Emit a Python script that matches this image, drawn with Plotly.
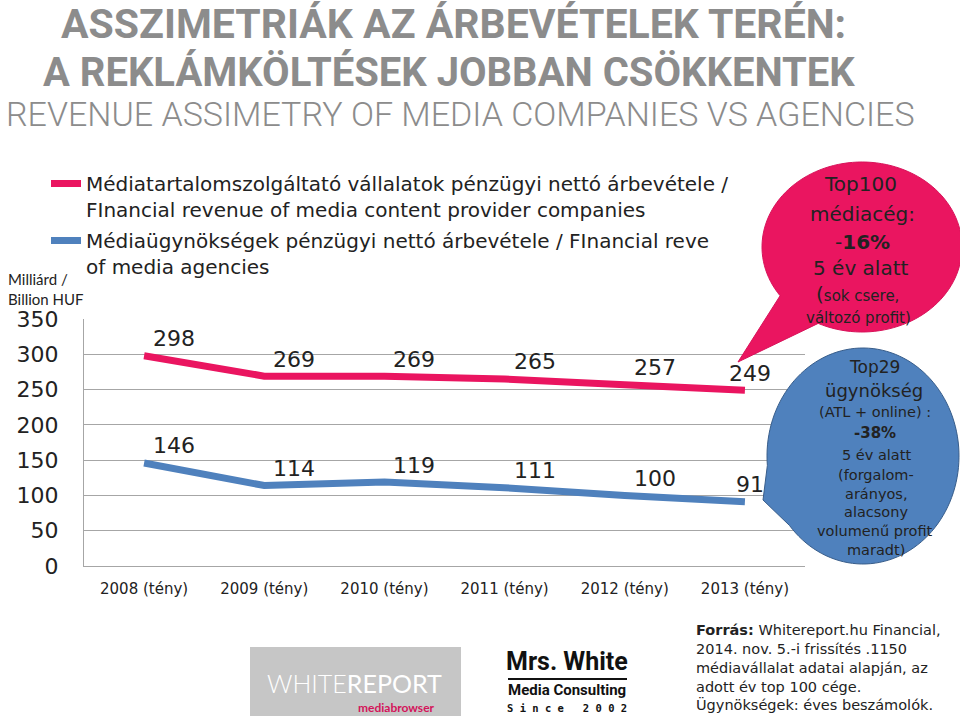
import numpy as np
import plotly.graph_objects as go

# ---- data ----
years = ["2008 (tény)", "2009 (tény)", "2010 (tény)", "2011 (tény)", "2012 (tény)", "2013 (tény)"]
media_revenue = [298, 269, 269, 265, 257, 249]
agency_revenue = [146, 114, 119, 111, 100, 91]
y_ticks = [0, 50, 100, 150, 200, 250, 300, 350]

media_name = "Médiatartalomszolgáltató vállalatok pénzügyi nettó árbevétele /<br>FInancial revenue of media content provider companies"
agency_name = "Médiaügynökségek pénzügyi nettó árbevétele / FInancial reve<br>of media agencies"

PINK = "#EA1560"
BLUE = "#4F81BD"
TXT = "#222222"
GOTHIC = "DejaVu Sans"
TITLE_FONT = "Roboto, sans-serif"

W, H = 960, 716
L, R, T, B = 84, 805, 319, 566  # plot area in pixels


def px(x):
    return (x - L) / (R - L)


def py(y):
    return (B - y) / (B - T)


def bubble(cx, cy, rx, ry, tip, a0, a1):
    """Speech bubble path in paper coords: ellipse plus a wedge tail."""
    t = np.radians(np.linspace(a0, a1 + 360, 120))
    xs = cx + rx * np.cos(t)
    ys = cy + ry * np.sin(t)
    pts = [tip] + list(zip(xs, ys))
    return "M " + " L ".join(f"{px(x):.5f},{py(y):.5f}" for x, y in pts) + " Z"


fig = go.Figure()
fig.add_trace(go.Scatter(x=years, y=media_revenue, name=media_name, mode="lines",
                         line=dict(color=PINK, width=7), legendgroup="a"))
fig.add_trace(go.Scatter(x=years, y=agency_revenue, name=agency_name, mode="lines",
                         line=dict(color=BLUE, width=7), legendgroup="b"))

ann = []

# data labels, sitting above and a bit right of each point
for series in (media_revenue, agency_revenue):
    for i, (yr, v) in enumerate(zip(years, series)):
        ann.append(dict(x=yr, y=v, xref="x", yref="y", text=str(v), showarrow=False,
                        xanchor="center", yanchor="middle",
                        xshift=30 if i < len(years) - 1 else 5, yshift=17,
                        font=dict(family=GOTHIC, size=22, color=TXT)))

shapes = [
    dict(type="path", xref="paper", yref="paper", layer="above",
         path=bubble(862, 247, 100, 85, (738, 362), 145, 116),
         fillcolor=PINK, line=dict(color="#D8135A", width=1)),
    dict(type="path", xref="paper", yref="paper", layer="above",
         path=bubble(863, 456, 96, 108, (763, 500), 175, 140),
         fillcolor=BLUE, line=dict(color="#385D8A", width=1)),
    # WHITEREPORT logo box
    dict(type="rect", xref="paper", yref="paper", layer="above",
         x0=px(250), x1=px(461), y0=py(647), y1=py(720),
         fillcolor="#C6C6C6", line=dict(width=0)),
    # Mrs. White rule
    dict(type="line", xref="paper", yref="paper", layer="above",
         x0=px(508), x1=px(627), y0=py(679), y1=py(679),
         line=dict(color="#111111", width=2)),
]


def note(text, x, y, size, color=TXT, family=GOTHIC, xanchor="center", align="center",
         yanchor="middle", weight=None):
    f = dict(family=family, size=size, color=color)
    if weight:
        f["weight"] = weight
    ann.append(dict(text=text, x=px(x), y=py(y), xref="paper", yref="paper",
                    showarrow=False, xanchor=xanchor, yanchor=yanchor, align=align, font=f))


note("<b>ASSZIMETRIÁK AZ ÁRBEVÉTELEK TERÉN:</b>", 453, 24, 41, "#8C8C8C", TITLE_FONT)
note("<b>A REKLÁMKÖLTÉSEK JOBBAN CSÖKKENTEK</b>", 449, 72, 40, "#8C8C8C", TITLE_FONT)
note("REVENUE ASSIMETRY OF MEDIA COMPANIES VS AGENCIES", 460, 114, 34, "#8C8C8C",
     TITLE_FONT, weight=300)

note("Milliárd /<br>Billion HUF", 6, 289, 15, TXT, "Lato", xanchor="left", align="left")

# pink bubble text
note("Top100", 860, 184, 20)
note("médiacég:", 862, 214, 20)
note("-<b>16%</b>", 862, 242, 20)
note("5 év alatt", 860, 268, 20)
note("<span style='font-size:20px'>(</span>sok csere,", 857, 294, 15)
note("változó profit)", 858, 318, 15)

# blue bubble text
note("Top29", 874, 367, 17)
note("ügynökség", 874, 390, 18)
note("(ATL + online) :", 875, 412, 14.5)
note("<b>-38%</b>", 875, 433, 15)
note("5 év alatt", 876, 455, 14.5)
note("(forgalom-", 876, 475, 14.5)
note("arányos,", 876, 494, 14.5)
note("alacsony", 876, 512, 14.5)
note("volumenű profit", 875, 531, 14.5)
note("maradt)", 876, 550, 14.5)

note("<b>Forrás:</b> Whitereport.hu Financial,<br>2014. nov. 5.-i frissítés .1150<br>"
     "médiavállalat adatai alapján, az<br>adott év top 100 cége.<br>Ügynökségek: éves beszámolók.",
     694, 620, 14.5, TXT, xanchor="left", align="left", yanchor="top")

# logos
note("<span style='font-weight:300'>WHITE</span>REPORT", 354, 683, 25, "white", "Lato")
note("<b>mediabrowser</b>", 396, 707, 12, "#D4145A", "Lato")
note("<b>Mrs. White</b>", 567, 661, 25, "#111111", TITLE_FONT)
note("<b>Media Consulting</b>", 567, 690, 15, "#111111", TITLE_FONT)
note("<b>S i n c e   2 0 0 2</b>", 567, 708, 10.5, "#111111", "DejaVu Sans Mono")

fig.update_layout(
    width=W, height=H,
    margin=dict(l=L, r=W - R, t=T, b=H - B, autoexpand=False),
    paper_bgcolor="white", plot_bgcolor="white",
    showlegend=True,
    legend=dict(x=px(46), y=py(164), xanchor="left", yanchor="top",
                font=dict(family=GOTHIC, size=20, color=TXT),
                valign="top", tracegroupgap=2, itemwidth=30,
                bgcolor="rgba(0,0,0,0)"),
    shapes=shapes,
    annotations=ann,
    xaxis=dict(type="category", range=[-0.5, 5.5], showgrid=False,
               showline=True, linecolor="#A6A6A6", linewidth=1,
               tickfont=dict(family=GOTHIC, size=15, color=TXT),
               ticks="", ticklabelstandoff=9, fixedrange=True),
    yaxis=dict(range=[0, 350], tickvals=y_ticks, showgrid=True,
               gridcolor="#A6A6A6", gridwidth=1,
               showline=True, linecolor="#A6A6A6", linewidth=1,
               zeroline=False, ticks="", ticklabelstandoff=20,
               tickfont=dict(family=GOTHIC, size=22, color=TXT), fixedrange=True),
)

fig.write_html("out.html", config={"displayModeBar": False},
               post_script="document.body.style.margin='0';")
